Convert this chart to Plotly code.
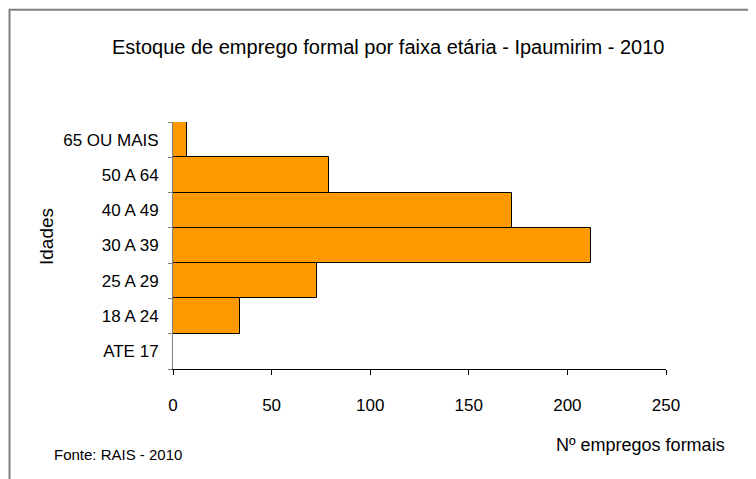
"""Estoque de emprego formal por faixa etaria - Ipaumirim 2010."""
import plotly.graph_objects as go

idades = ['ATE 17', '18 A 24', '25 A 29', '30 A 39', '40 A 49', '50 A 64', '65 OU MAIS']
empregos = [0, 34, 73, 212, 172, 79, 7]
x_ticks = [0, 50, 100, 150, 200, 250]

W, H = 756, 479
OFF = 8  # page body margin
L, R, T, B = 173 - OFF, 666 - OFF, 122 - OFF, 369 - OFF  # plot area in pixels
FONT = 'Liberation Sans, Arial, sans-serif'


def px(x):
    return (x - OFF - L) / (R - L)


def py(y):
    return (B - (y - OFF)) / (B - T)


fig = go.Figure()
fig.add_trace(go.Bar(
    y=idades, x=empregos,
    orientation='h',
    marker=dict(color='#FF9900', line=dict(color='black', width=1)),
    showlegend=False,
))

fig.update_layout(
    width=W, height=H,
    margin=dict(l=L, r=W - R, t=T, b=H - B, autoexpand=False),
    paper_bgcolor='white',
    plot_bgcolor='white',
    font=dict(family=FONT, size=16, color='black'),
    bargap=0,
    xaxis=dict(
        range=[0, 250], tickvals=x_ticks, showgrid=False, zeroline=False,
        showline=True, linecolor='black', linewidth=1,
        ticks='outside', ticklen=5, tickcolor='black',
        ticklabelstandoff=16, tickfont=dict(size=17),
    ),
    yaxis=dict(
        categoryorder='array', categoryarray=idades,
        showgrid=False, zeroline=False,
        showline=True, linecolor='#808080', linewidth=1,
        ticks='outside', ticklen=4, tickcolor='#808080', tickson='boundaries',
        ticklabelstandoff=10, tickfont=dict(size=17),
    ),
    shapes=[dict(
        type='rect', xref='paper', yref='paper',
        x0=px(9.5), x1=px(790), y0=py(510), y1=py(9.7),
        line=dict(color='#808080', width=2),
    )],
    annotations=[
        dict(text='Estoque de emprego formal por faixa etária - Ipaumirim - 2010',
             xref='paper', yref='paper', x=px(388), y=py(47),
             showarrow=False, font=dict(size=20), xanchor='center', yanchor='middle'),
        dict(text='Idades', xref='paper', yref='paper', x=px(46), y=py(237),
             textangle=-90, showarrow=False, font=dict(size=19),
             xanchor='center', yanchor='middle'),
        dict(text='Nº empregos formais', xref='paper', yref='paper', x=px(640), y=py(445),
             showarrow=False, font=dict(size=18), xanchor='center', yanchor='middle'),
        dict(text='Fonte: RAIS - 2010', xref='paper', yref='paper', x=px(52), y=py(454),
             showarrow=False, font=dict(size=15), xanchor='left', yanchor='middle'),
    ],
)

fig.write_html('out.html')
